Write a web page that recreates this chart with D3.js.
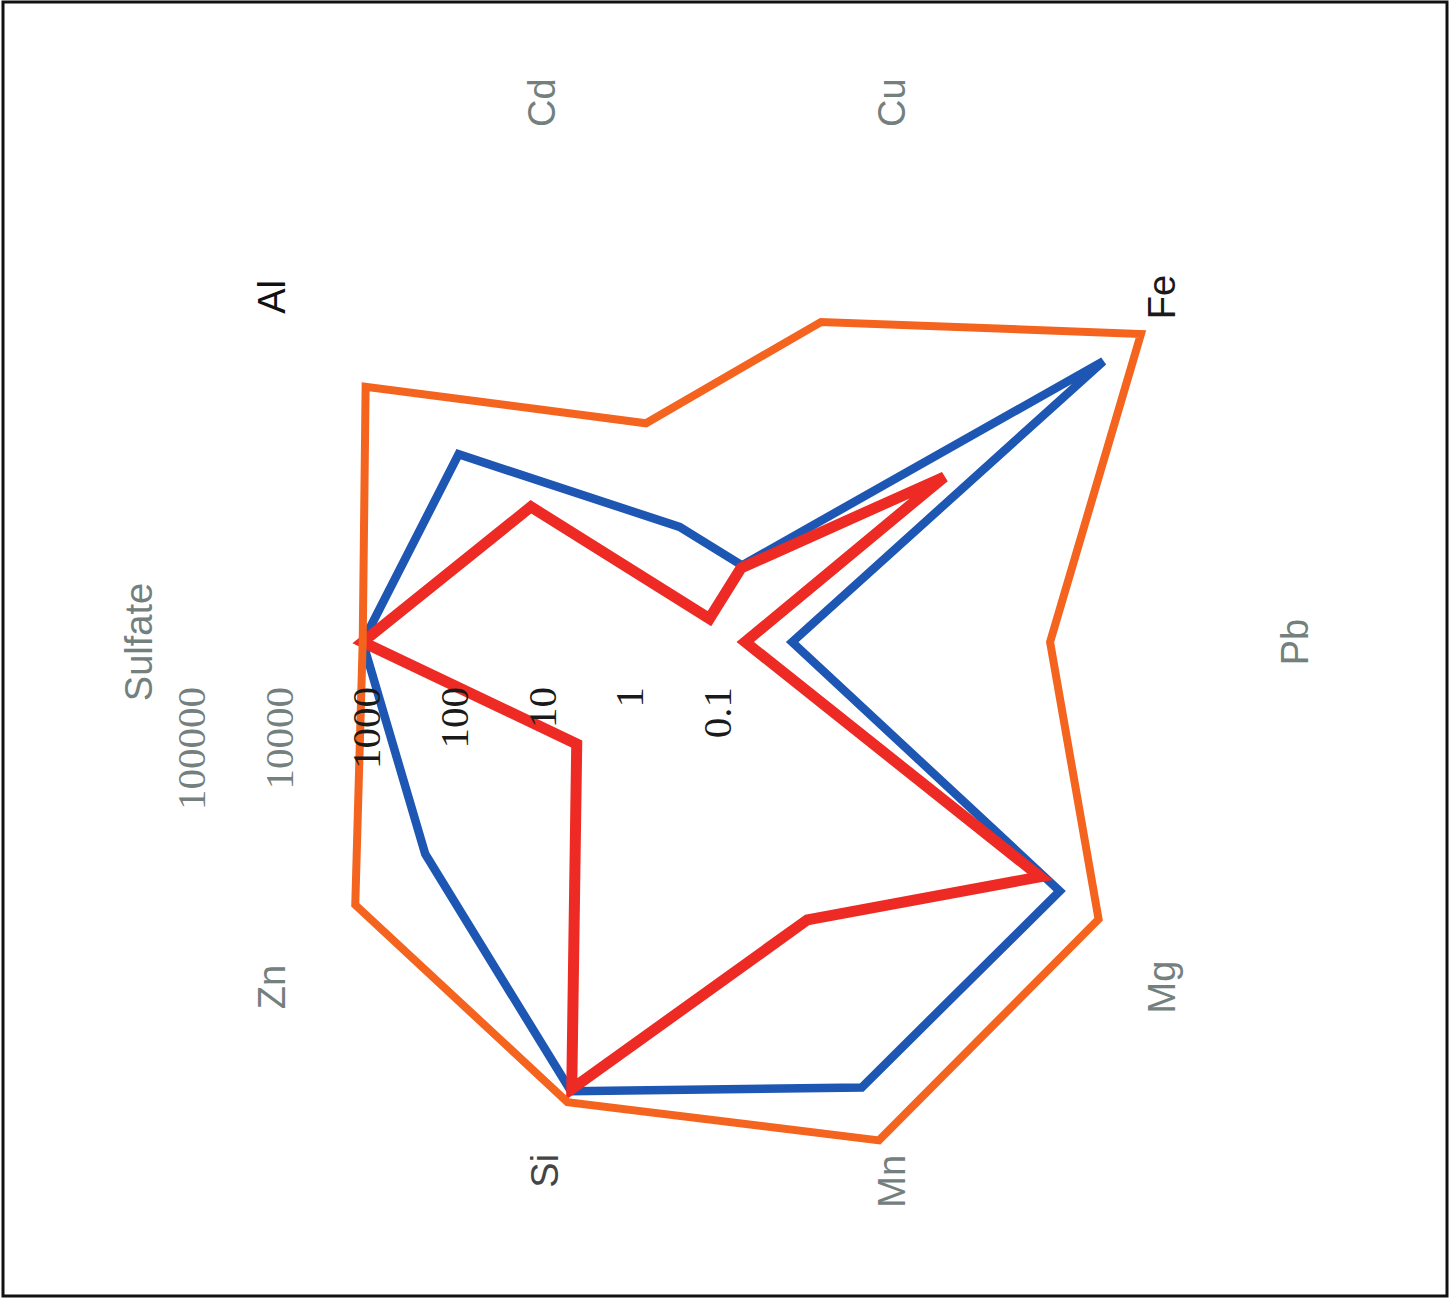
<!DOCTYPE html>
<html>
<head>
<meta charset="utf-8">
<script src="https://cdn.jsdelivr.net/npm/d3@7"></script>
<style>
  html, body { margin: 0; padding: 0; background: #fff; }
  svg { display: block; }
</style>
</head>
<body>
<svg id="chart" width="1453" height="1299"></svg>
<script>
// Radar axes, clockwise from the top
const categories = ["Sulfate", "Al", "Cd", "Cu", "Fe", "Pb", "Mg", "Mn", "Si", "Zn"];

// Concentrations on each axis (log scale)
const seriesOrange = [1100, 9000, 42, 690, 95000, 630, 24000, 95000, 33000, 12600];
const seriesBlue   = [1100, 440, 2.4, 0.83, 28000, 0.72, 6800, 22000, 24500, 1300];
const seriesRed    = [1100, 42, 0.19, 0.77, 160, 0.21, 3600, 215, 23000, 9.5];

// Radial tick labels
const tickValues = [100000, 10000, 1000, 100, 10, 1, 0.1];
const tickLabels = ["100000", "10000", "1000", "100", "10", "1", "0.1"];

const cx = 717, cy = 642;

const svg = d3.select("#chart");

// outer frame
svg.append("rect")
  .attr("x", 3).attr("y", 2)
  .attr("width", 1444).attr("height", 1294)
  .attr("fill", "none").attr("stroke", "#111").attr("stroke-width", 3);

const r = d3.scaleLog().domain([0.1, 100000]).range([0, 526]);
const angle = d3.scalePoint().domain(categories).range([0, 2 * Math.PI * (1 - 1 / categories.length)]);

// the whole radar is turned a quarter turn counter-clockwise
const g = svg.append("g").attr("transform", `translate(${cx},${cy}) rotate(-90)`);

const line = d3.lineRadial()
  .angle((d, i) => angle(categories[i]))
  .radius(d => r(d))
  .curve(d3.curveLinearClosed);

const series = [
  { values: seriesBlue,   color: "#1d57b3", width: 8.5 },
  { values: seriesRed,    color: "#ee2a24", width: 11 },
  { values: seriesOrange, color: "#f4641e", width: 8 }
];

g.selectAll("path.series")
  .data(series)
  .join("path")
  .attr("class", "series")
  .attr("d", d => line(d.values))
  .attr("fill", "none")
  .attr("stroke", d => d.color)
  .attr("stroke-width", d => d.width)
  .attr("stroke-linejoin", "miter");

// category labels: farther out at the poles, diagonals pushed slightly sideways
const labelColor = { "Al": "#111", "Fe": "#1a1a1a", "Si": "#444" };
function labelPos(d) {
  let a = angle(d);
  const c = Math.abs(Math.cos(a));
  let rad = 567;
  if (c > 0.9) rad = 578;
  else if (c > 0.5) {
    rad = 563;
    a += (Math.sin(a) * Math.cos(a) > 0 ? 1 : -1) * 1.8 * Math.PI / 180;
  }
  if (d === "Si") rad = 556;
  return [rad * Math.sin(a), -rad * Math.cos(a)];
}
g.selectAll("text.cat")
  .data(categories)
  .join("text")
  .attr("class", "cat")
  .attr("x", d => labelPos(d)[0])
  .attr("y", d => labelPos(d)[1])
  .attr("text-anchor", "middle")
  .attr("dominant-baseline", "central")
  .attr("font-family", "'Liberation Sans', Arial, sans-serif")
  .attr("font-size", 38)
  .attr("fill", d => labelColor[d] || "#74807d")
  .text(d => d);

// radial tick labels along the first axis
g.selectAll("text.tick")
  .data(tickValues)
  .join("text")
  .attr("class", "tick")
  .attr("x", -45)
  .attr("y", d => -r(d))
  .attr("text-anchor", "end")
  .attr("dominant-baseline", "central")
  .attr("font-family", "'Liberation Serif', 'Times New Roman', serif")
  .attr("font-size", 41)
  .attr("fill", d => d >= 10000 ? "#74807d" : "#1a1a1a")
  .text((d, i) => tickLabels[i]);
</script>
</body>
</html>
